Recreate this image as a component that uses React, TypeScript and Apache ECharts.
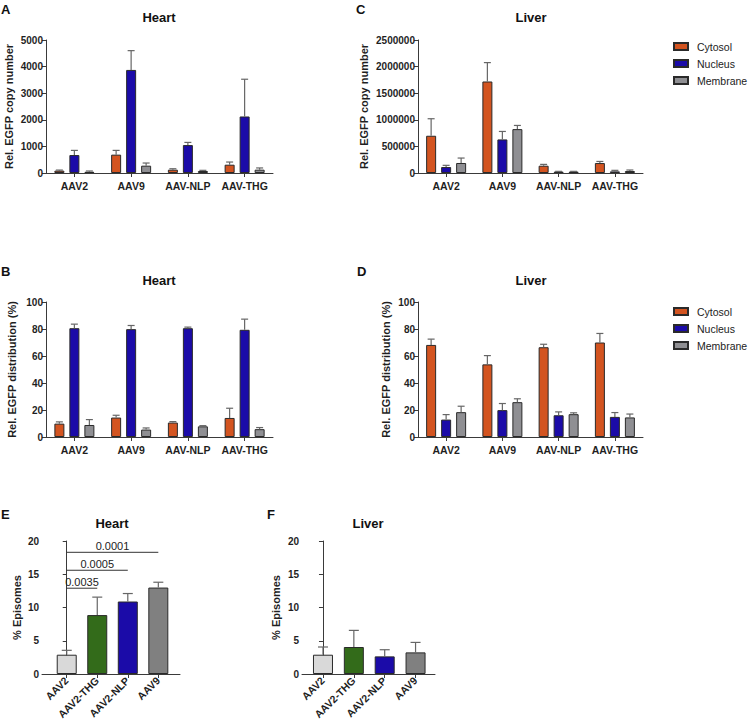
import React, { useEffect, useRef } from 'react';
import * as echarts from 'echarts';

const FONT = 'Liberation Sans, Arial, Helvetica, sans-serif';

// ---------- data ----------
const groups = ['AAV2', 'AAV9', 'AAV-NLP', 'AAV-THG'];
const fractions = ['Cytosol', 'Nucleus', 'Membrane'];
const fractionColors = ['#d35420', '#1b0ba8', '#8f8f93'];

// Heart: relative EGFP copy number (mean / upper whisker) per fraction
const heartCopyMean = [
  [88, 690, 125, 312],
  [675, 3875, 1050, 2125],
  [45, 275, 75, 125],
];
const heartCopyUpper = [
  [110, 850, 160, 412],
  [850, 4600, 1150, 3525],
  [75, 375, 100, 190],
];

// Liver: relative EGFP copy number
const liverCopyMean = [
  [700000, 1720000, 137000, 187000],
  [112000, 631000, 25000, 30000],
  [188000, 825000, 25000, 37000],
];
const liverCopyUpper = [
  [1020000, 2075000, 162000, 217000],
  [144000, 781000, 31000, 50000],
  [281000, 894000, 31000, 56000],
];

// Heart: relative EGFP distribution (%)
const heartDistMean = [
  [9.9, 14.4, 10.7, 14.1],
  [80.6, 79.9, 80.6, 79.4],
  [8.9, 5.5, 7.9, 5.8],
];
const heartDistUpper = [
  [11.2, 16.1, 11.4, 21.3],
  [83.6, 82.6, 81.4, 87.3],
  [12.9, 6.7, 8.4, 7.0],
];

// Liver: relative EGFP distribution (%)
const liverDistMean = [
  [68.2, 53.8, 66.5, 70.0],
  [12.9, 19.9, 16.1, 14.9],
  [18.4, 25.8, 16.9, 14.5],
];
const liverDistUpper = [
  [72.5, 60.3, 68.7, 76.7],
  [16.6, 24.8, 18.6, 18.1],
  [22.8, 28.3, 17.9, 17.0],
];

// Episomes
const episomeGroups = ['AAV2', 'AAV2-THG', 'AAV2-NLP', 'AAV9'];
const episomeColors = ['#d9d9d9', '#336b1a', '#1b0ba8', '#808080'];
const heartEpisomes = [2.9, 8.86, 10.9, 13.0];
const heartEpisomesUpper = [3.56, 11.56, 12.1, 13.8];
const liverEpisomes = [2.9, 4.06, 2.65, 3.25];
const liverEpisomesUpper = [4.06, 6.56, 3.65, 4.75];

// significance brackets for heart episomes
const sigFrom = [0, 0, 0];
const sigTo = [1, 2, 3];
const sigLevel = [12.9, 15.6, 18.3];
const sigP = ['0.0035', '0.0005', '0.0001'];

// ---------- layout ----------
const grids = [
  { left: 46, top: 40, width: 227, height: 133 }, // A
  { left: 418, top: 40, width: 225, height: 133 }, // C
  { left: 46, top: 302, width: 227, height: 135 }, // B
  { left: 418, top: 302, width: 225, height: 135 }, // D
  { left: 42, top: 541, width: 138, height: 133 }, // E
  { left: 302, top: 541, width: 133, height: 133 }, // F
];

const AXIS_COLOR = '#3a3a3a';
const LABEL_COLOR = '#1f1f1f';
const ERR_COLOR = '#666666';

const BAR_W = 10;
const BAR_GAP = 0.5;
const barOffsets = fractions.map((_, i) => {
  const total = fractions.length * BAR_W + (fractions.length - 1) * BAR_W * BAR_GAP;
  return -total / 2 + BAR_W / 2 + i * BAR_W * (1 + BAR_GAP);
});

function errRender(offset: number, capW: number) {
  return (params: any, api: any) => {
    const x = api.value(0);
    const p0 = api.coord([x, api.value(1)]);
    const p1 = api.coord([x, api.value(2)]);
    const cx = p0[0] + offset;
    const st = { stroke: ERR_COLOR, lineWidth: 1.2 };
    return {
      type: 'group',
      children: [
        { type: 'line', shape: { x1: cx, y1: p0[1], x2: cx, y2: p1[1] }, style: st },
        { type: 'line', shape: { x1: cx - capW / 2, y1: p1[1], x2: cx + capW / 2, y2: p1[1] }, style: st },
      ],
    };
  };
}

const axisLineStyle = { show: true, lineStyle: { color: AXIS_COLOR, width: 1 } };
const axisTickStyle = { show: true, length: 4, lineStyle: { color: AXIS_COLOR, width: 1 } };
const yLabel = {
  color: LABEL_COLOR,
  fontWeight: 'bold',
  fontSize: 10,
  fontFamily: FONT,
  margin: 3,
  formatter: (v: number) => String(v),
};
const nameStyle = { color: LABEL_COLOR, fontWeight: 'bold', fontSize: 11, fontFamily: FONT };

function makeY(grid: number, max: number, interval: number, name: string, nameGap: number) {
  return {
    type: 'value',
    gridIndex: grid,
    min: 0,
    max,
    interval,
    name,
    nameLocation: 'middle',
    nameGap,
    nameTextStyle: nameStyle,
    axisLine: axisLineStyle,
    axisTick: axisTickStyle,
    axisLabel: yLabel,
    splitLine: { show: false },
  };
}

function makeCatX(grid: number) {
  return {
    type: 'category',
    gridIndex: grid,
    data: groups,
    axisLine: axisLineStyle,
    axisTick: { ...axisTickStyle, alignWithLabel: true },
    axisLabel: {
      interval: 0,
      color: LABEL_COLOR,
      fontWeight: 'bold',
      fontSize: 10.5,
      fontFamily: FONT,
      margin: 7,
    },
  };
}

function makeEpiX(grid: number, min: number, max: number) {
  const vals = episomeGroups.map((_, i) => i);
  return {
    type: 'value',
    gridIndex: grid,
    min,
    max,
    axisLine: axisLineStyle,
    axisTick: { ...axisTickStyle, customValues: vals },
    axisLabel: {
      customValues: vals,
      rotate: 45,
      color: LABEL_COLOR,
      fontWeight: 'bold',
      fontSize: 10.5,
      fontFamily: FONT,
      margin: 5,
      formatter: (v: number) => episomeGroups[Math.round(v)] ?? '',
    },
    splitLine: { show: false },
  };
}

function panelSeries(grid: number, means: number[][], uppers: number[][]) {
  const out: any[] = [];
  fractions.forEach((f, fi) => {
    out.push({
      type: 'bar',
      name: f,
      xAxisIndex: grid,
      yAxisIndex: grid,
      data: means[fi],
      barWidth: BAR_W,
      barGap: `${BAR_GAP * 100}%`,
      itemStyle: { color: fractionColors[fi], borderColor: '#2a2a2a', borderWidth: 1 },
      silent: true,
    });
  });
  fractions.forEach((f, fi) => {
    out.push({
      type: 'custom',
      name: f + ' error',
      xAxisIndex: grid,
      yAxisIndex: grid,
      data: groups.map((_, i) => [i, means[fi][i], uppers[fi][i]]),
      renderItem: errRender(barOffsets[fi], 7),
      z: 3,
      silent: true,
    });
  });
  return out;
}

function episomeSeries(grid: number, vals: number[], uppers: number[]) {
  return [
    {
      type: 'bar',
      name: 'Episomes ' + grid,
      xAxisIndex: grid,
      yAxisIndex: grid,
      barWidth: 20,
      data: vals.map((v, i) => ({ value: [i, v], itemStyle: { color: episomeColors[i] } })),
      itemStyle: { borderColor: '#2a2a2a', borderWidth: 1 },
      silent: true,
    },
    {
      type: 'custom',
      name: 'Episomes error ' + grid,
      xAxisIndex: grid,
      yAxisIndex: grid,
      data: vals.map((v, i) => [i, v, uppers[i]]),
      renderItem: errRender(0, 10),
      z: 3,
      silent: true,
    },
  ];
}

const sigSeries = {
  type: 'custom',
  name: 'significance',
  xAxisIndex: 4,
  yAxisIndex: 4,
  encode: { x: [0, 1], y: 2 },
  data: sigP.map((_, i) => [sigFrom[i], sigTo[i], sigLevel[i]]),
  renderItem: (params: any, api: any) => {
    const a = api.coord([api.value(0), api.value(2)]);
    const b = api.coord([api.value(1), api.value(2)]);
    return {
      type: 'group',
      children: [
        { type: 'line', shape: { x1: a[0], y1: a[1], x2: b[0], y2: b[1] }, style: { stroke: '#333', lineWidth: 1 } },
        {
          type: 'text',
          x: (a[0] + b[0]) / 2,
          y: a[1] - 1,
          style: {
            text: sigP[params.dataIndex],
            textAlign: 'center',
            textVerticalAlign: 'bottom',
            fontSize: 11,
            fontFamily: FONT,
            fill: '#222',
          },
        },
      ],
    };
  },
  silent: true,
  z: 4,
};

function titleItem(text: string, left: number, top: number, center = true) {
  return {
    text,
    left,
    top,
    textAlign: center ? 'center' : 'left',
    padding: 0,
    textStyle: { fontSize: 13, fontWeight: 'bold', color: '#111', fontFamily: FONT },
  };
}

function legendItem(top: number) {
  return {
    data: fractions,
    orient: 'vertical',
    left: 673,
    top,
    itemWidth: 14,
    itemHeight: 7,
    itemGap: 6,
    icon: 'rect',
    selectedMode: false,
    padding: 0,
    textStyle: { fontSize: 10.5, color: '#222', fontFamily: FONT, padding: [0, 0, 0, 4] },
  };
}

export default function App() {
  const ref = useRef<HTMLDivElement>(null);
  useEffect(() => {
    if (!ref.current) return;
    const chart = echarts.init(ref.current, undefined, { renderer: 'svg' });
    const option: any = {
      animation: false,
      backgroundColor: '#ffffff',
      title: [
        titleItem('A', 1, 3, false),
        titleItem('C', 356, 3, false),
        titleItem('B', 1, 265, false),
        titleItem('D', 357, 265, false),
        titleItem('E', 1, 508, false),
        titleItem('F', 267, 508, false),
        titleItem('Heart', 159, 11),
        titleItem('Liver', 531, 11),
        titleItem('Heart', 159, 274),
        titleItem('Liver', 531, 274),
        titleItem('Heart', 112, 517),
        titleItem('Liver', 368, 517),
      ],
      legend: [legendItem(41), legendItem(306)],
      grid: grids,
      xAxis: [
        makeCatX(0),
        makeCatX(1),
        makeCatX(2),
        makeCatX(3),
        makeEpiX(4, -0.81, 3.71),
        makeEpiX(5, -0.68, 3.63),
      ],
      yAxis: [
        makeY(0, 5000, 1000, 'Rel. EGFP copy number', 32),
        makeY(1, 2500000, 500000, 'Rel. EGFP copy number', 49),
        makeY(2, 100, 20, 'Rel. EGFP distribution (%)', 29),
        makeY(3, 100, 20, 'Rel. EGFP distribution (%)', 27),
        makeY(4, 20, 5, '% Episomes', 20),
        makeY(5, 20, 5, '% Episomes', 21),
      ],
      series: [
        ...panelSeries(0, heartCopyMean, heartCopyUpper),
        ...panelSeries(1, liverCopyMean, liverCopyUpper),
        ...panelSeries(2, heartDistMean, heartDistUpper),
        ...panelSeries(3, liverDistMean, liverDistUpper),
        ...episomeSeries(4, heartEpisomes, heartEpisomesUpper),
        ...episomeSeries(5, liverEpisomes, liverEpisomesUpper),
        sigSeries,
      ],
    };
    chart.setOption(option);
    return () => chart.dispose();
  }, []);
  return (
    <div
      ref={ref}
      style={{ position: 'absolute', left: 0, top: 0, width: 748, height: 728, background: '#fff' }}
    />
  );
}
